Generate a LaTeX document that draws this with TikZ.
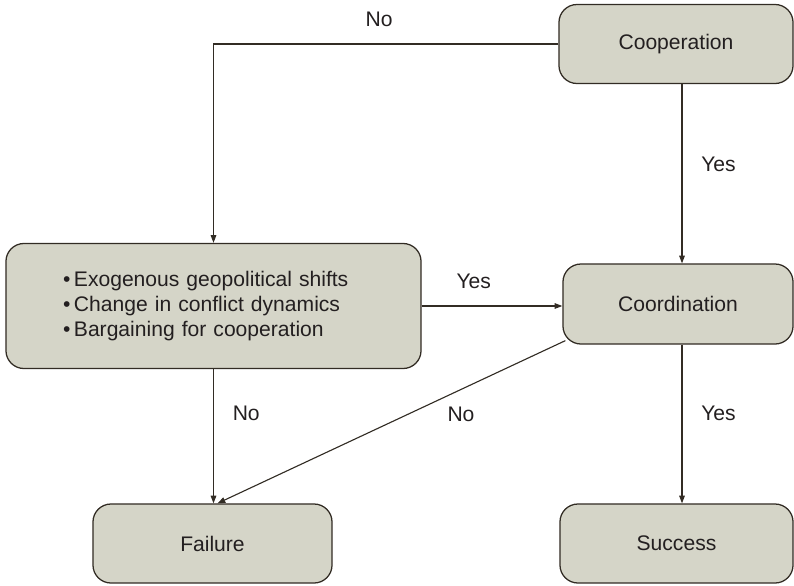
\documentclass[tikz,border=0pt]{standalone}
\usepackage{fontspec}
\setmainfont{Liberation Sans}
\usetikzlibrary{arrows.meta, positioning, calc}
\definecolor{boxfill}{RGB}{213,213,200}
\definecolor{boxline}{RGB}{50,44,36}
\definecolor{inktext}{RGB}{35,31,32}

\begin{document}
\begin{tikzpicture}[
    x=0.025cm, y=-0.025cm,
    stage/.style={rectangle, draw=boxline, fill=boxfill, line width=0.9pt, rounded corners=0.45cm, minimum width=5.85cm, minimum height=1.975cm, font=\fontsize{15}{18}\selectfont, text=inktext},
    arr/.style={-{Triangle[length=5.5pt, width=4pt]}, line width=0.8pt, color=boxline},
    answer/.style={font=\fontsize{15}{18}\selectfont, text=inktext}
]
    \useasboundingbox (0,0) rectangle (794,585);

    % Left column: factors box over failure, right column: the three stages
    \node[stage] (Coop) at (676, 44) {Cooperation};
    \node[stage, minimum width=10.375cm, minimum height=3.125cm, text width=7.52cm, align=left] (Shift) at (213.5, 306)
        {\textbullet\,Exogenous geopolitical shifts\\ \textbullet\,Change in conflict dynamics\\ \textbullet\,Bargaining for cooperation};
    \node[stage, minimum width=5.75cm, minimum height=2cm] (Coord) at (678, 304) {Coordination};
    \node[stage, minimum width=5.975cm] (Fail) at (212.5, 543.5) {Failure};
    \node[stage, minimum width=5.825cm] (Succ) at (676.5, 543.5) {Success};

    % Vertical line of the right column
    \coordinate (colR) at (682, 0);

    % Arrows
    \draw[arr] (Coop.west) -| node[answer, above=0.3cm, pos=0.26]{No} (Shift.north);
    \draw[arr] (Coop.south -| colR) -- node[answer, right=0.35cm, pos=0.45]{Yes} (Coord.north -| colR);
    \draw[arr] (Shift.east) -- node[answer, above=0.3cm, pos=0.37]{Yes} (Shift.east -| Coord.west);
    \draw[arr] (Shift.south) -- node[answer, right=0.35cm, pos=0.33]{No} (Shift.south |- Fail.north);
    \draw[arr] ($(Coord.south west)+(3,-4)$) -- node[answer, below=0.3cm, pos=0.3]{No} ($(Fail.north)+(5,0)$);
    \draw[arr] (Coord.south -| colR) -- node[answer, right=0.35cm, pos=0.43]{Yes} (Succ.north -| colR);
\end{tikzpicture}
\end{document}
